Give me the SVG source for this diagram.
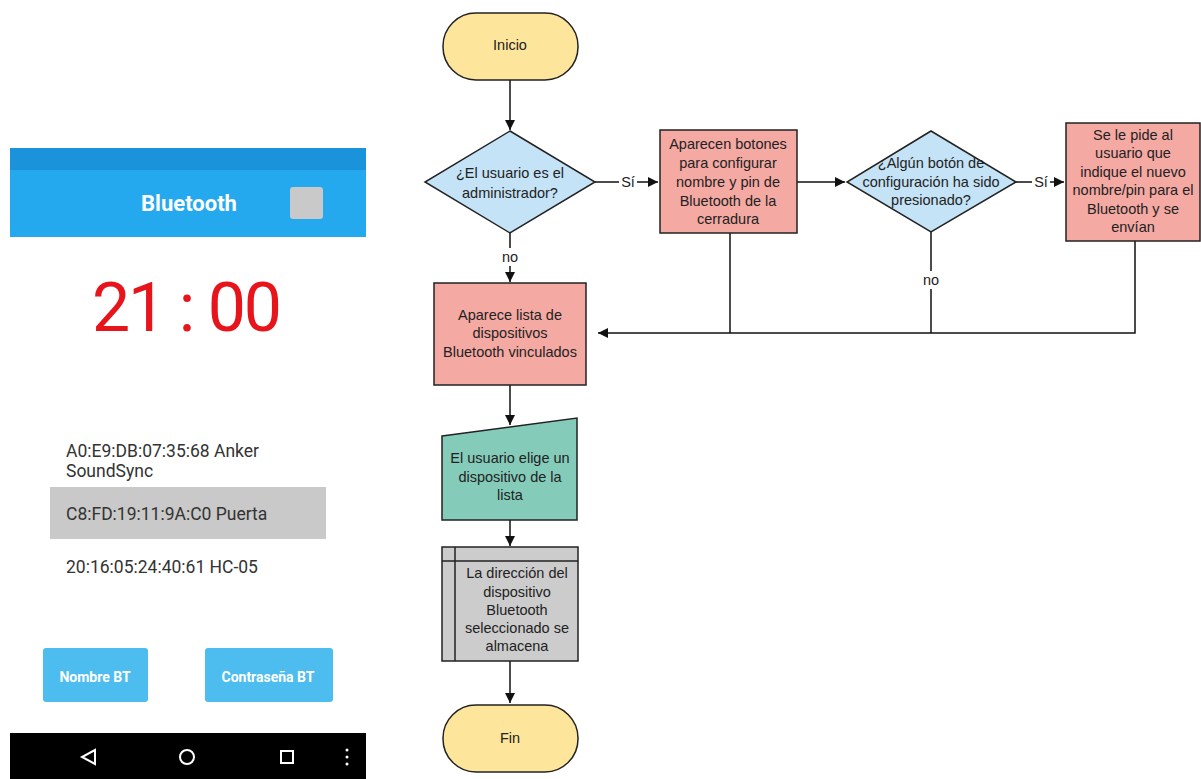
<svg xmlns="http://www.w3.org/2000/svg" width="1201" height="779" viewBox="0 0 1201 779">
<style>
.t{font-family:"Liberation Sans",Arial,sans-serif;font-size:14.5px;fill:#222;text-anchor:middle}
.n{stroke:#222;stroke-width:1.5}
.c{stroke:#111;stroke-width:1.5;fill:none}
.ph{font-family:Roboto,"Liberation Sans",sans-serif;font-size:17.5px;fill:#333}
.btn{fill:#4dbdf0}
.bt{font-family:Roboto,"Liberation Sans",Arial,sans-serif;font-size:14px;fill:#fff;text-anchor:middle;font-weight:bold}
</style>
<defs>
<marker id="a" viewBox="0 0 10 10" refX="10" refY="5" markerWidth="10" markerHeight="10" markerUnits="userSpaceOnUse" orient="auto">
<path d="M0,0 L10,5 L0,10 z" fill="#111"/>
</marker>
</defs>
<rect width="1201" height="779" fill="#fff"/>
<g id="phone">
<rect x="10" y="148" width="356" height="22" fill="#1a93da"/>
<rect x="10" y="170" width="356" height="67" fill="#24a8ee"/>
<text x="189" y="211" font-family="Roboto,'Liberation Sans',sans-serif" font-size="22" font-weight="bold" fill="#fff" text-anchor="middle">Bluetooth</text>
<rect x="290" y="187" width="33" height="32" rx="3" fill="#c9c9c9"/>
<text x="187" y="331" font-family="Roboto,'Liberation Sans',sans-serif" font-size="68" fill="#e8141c" text-anchor="middle" textLength="190" lengthAdjust="spacing">21 : 00</text>
<text class="ph" x="66" y="457">A0:E9:DB:07:35:68 Anker</text>
<text class="ph" x="66" y="477">SoundSync</text>
<rect x="50" y="487" width="276" height="52" fill="#c9c9c9"/>
<text class="ph" x="66" y="520">C8:FD:19:11:9A:C0 Puerta</text>
<text class="ph" x="66" y="573">20:16:05:24:40:61 HC-05</text>
<rect class="btn" x="43" y="648" width="105" height="54" rx="3"/>
<text class="bt" x="95" y="682">Nombre BT</text>
<rect class="btn" x="205" y="648" width="128" height="54" rx="3"/>
<text class="bt" x="268" y="682">Contraseña BT</text>
<rect x="10" y="733" width="356" height="46" fill="#000"/>
<path d="M95,750 L82,757 L95,764 z" fill="none" stroke="#fff" stroke-width="2"/>
<circle cx="187" cy="757" r="7" fill="none" stroke="#fff" stroke-width="2"/>
<rect x="281" y="751" width="12" height="12" fill="none" stroke="#fff" stroke-width="2"/>
<circle cx="347" cy="750" r="1.5" fill="#fff"/>
<circle cx="347" cy="757" r="1.5" fill="#fff"/>
<circle cx="347" cy="764" r="1.5" fill="#fff"/>
</g>
<g id="connectors">
<path class="c" d="M510,80 V130" marker-end="url(#a)"/>
<path class="c" d="M595,182 H619 M637,182 H658" marker-end="url(#a)"/>
<path class="c" d="M797,182 H845" marker-end="url(#a)"/>
<path class="c" d="M1016,182 H1032 M1050,182 H1064" marker-end="url(#a)"/>
<path class="c" d="M510,233 V248 M510,266 V282" marker-end="url(#a)"/>
<path class="c" d="M1135,241 V333 H598" marker-end="url(#a)"/>
<path class="c" d="M730,233 V333"/>
<path class="c" d="M931,232 V271 M931,289 V333"/>
<path class="c" d="M510,385 V425" marker-end="url(#a)"/>
<path class="c" d="M510,520 V546" marker-end="url(#a)"/>
<path class="c" d="M510,661 V703" marker-end="url(#a)"/>
<text class="t" x="628" y="187">Sí</text>
<text class="t" x="1041" y="187">Sí</text>
<text class="t" x="510" y="262">no</text>
<text class="t" x="931" y="285">no</text>
</g>
<g id="inicio">
<rect class="n" x="443" y="13" width="135" height="67" rx="33" fill="#fde69c"/>
<text class="t" x="510" y="50">Inicio</text>
</g>
<g id="admin">
<path class="n" d="M510,131 L595,182 L510,233 L425,182 z" fill="#c4e3f6"/>
<text class="t" x="510" y="178">¿El usuario es el</text>
<text class="t" x="510" y="198">administrador?</text>
</g>
<g id="botones">
<rect class="n" x="660" y="130" width="137" height="103" fill="#f5a9a3"/>
<text class="t" x="728" y="149">Aparecen botones</text>
<text class="t" x="728" y="168">para configurar</text>
<text class="t" x="728" y="187">nombre y pin de</text>
<text class="t" x="728" y="206">Bluetooth de la</text>
<text class="t" x="728" y="224">cerradura</text>
</g>
<g id="presionado">
<path class="n" d="M931,131 L1016,182 L931,232 L847,182 z" fill="#c4e3f6"/>
<text class="t" x="931" y="168">¿Algún botón de</text>
<text class="t" x="931" y="187">configuración ha sido</text>
<text class="t" x="931" y="205">presionado?</text>
</g>
<g id="pide">
<rect class="n" x="1066" y="123" width="134" height="118" fill="#f5a9a3"/>
<text class="t" x="1133" y="140">Se le pide al</text>
<text class="t" x="1133" y="158">usuario que</text>
<text class="t" x="1133" y="177">indique el nuevo</text>
<text class="t" x="1133" y="195">nombre/pin para el</text>
<text class="t" x="1133" y="214">Bluetooth y se</text>
<text class="t" x="1133" y="232">envían</text>
</g>
<g id="lista">
<rect class="n" x="434" y="283" width="152" height="102" fill="#f5a9a3"/>
<text class="t" x="510" y="320">Aparece lista de</text>
<text class="t" x="510" y="338">dispositivos</text>
<text class="t" x="510" y="357">Bluetooth vinculados</text>
</g>
<g id="elige">
<path class="n" d="M442,436 L577,418 L577,520 L442,520 z" fill="#84ccb9"/>
<text class="t" x="510" y="463">El usuario elige un</text>
<text class="t" x="510" y="482">dispositivo de la</text>
<text class="t" x="510" y="500">lista</text>
</g>
<g id="almacena">
<rect class="n" x="442" y="547" width="136" height="114" fill="#cccccc"/>
<path class="n" d="M442,561 H578 M455,547 V661"/>
<text class="t" x="517" y="578">La dirección del</text>
<text class="t" x="517" y="597">dispositivo</text>
<text class="t" x="517" y="615">Bluetooth</text>
<text class="t" x="517" y="633">seleccionado se</text>
<text class="t" x="517" y="651">almacena</text>
</g>
<g id="fin">
<rect class="n" x="443" y="705" width="135" height="67" rx="33" fill="#fde69c"/>
<text class="t" x="510" y="743">Fin</text>
</g>
</svg>
